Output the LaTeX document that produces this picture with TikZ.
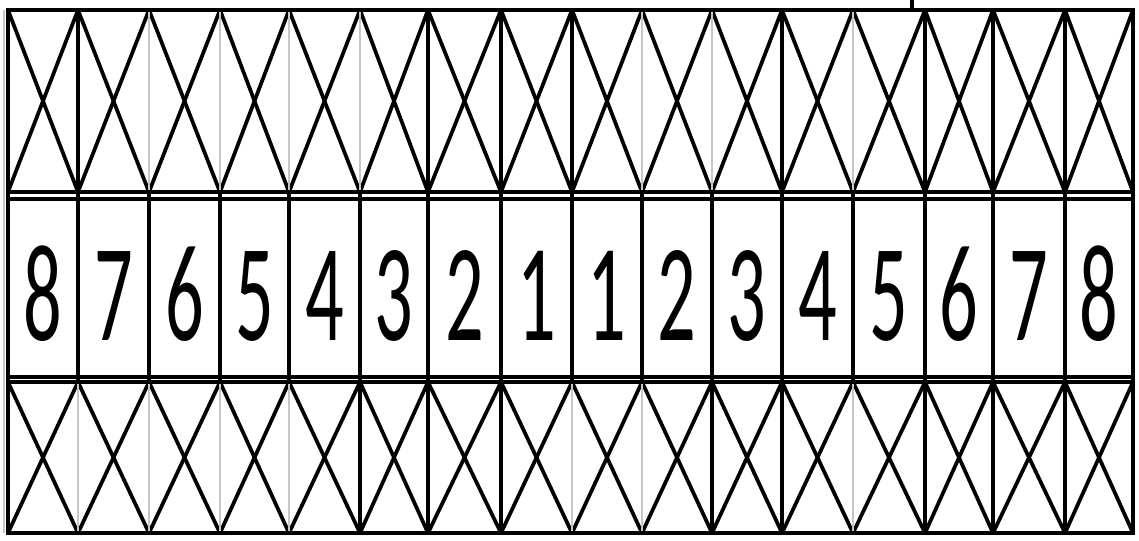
\documentclass[tikz,border=0pt]{standalone}
\usepackage{fontspec}
\newfontfamily\digitfont{Carlito}
\begin{document}
\begin{tikzpicture}[x=0.75pt,y=-0.75pt,
  heavy/.style={line width=3.2pt,black},
  diag/.style={line width=2.8pt,black},
  faint/.style={line width=1.1pt,black!22},
  digit/.style={inner sep=0pt,anchor=base,font=\digitfont\fontsize{104}{104}\selectfont}]
\useasboundingbox (0,0) rectangle (1139,540);
\fill[white] (0,0) rectangle (1139,540);
% faint left margin line
\draw[faint] (4,10) -- (4,533);
% top and bottom row crosses
\foreach \a/\b in {8/78,78/149,149/220,220/289,289/360,360/428,428/501,501/572,572/642,642/712,712/782,782/853,853/925,925/993,993/1065,1065/1133}{
  \draw[diag] (\a,10) -- (\b,192);
  \draw[diag] (\b,10) -- (\a,192);
  \draw[diag] (\a,382) -- (\b,533);
  \draw[diag] (\b,382) -- (\a,533);
}
% top row verticals (1 = heavy, 0 = faint)
\foreach \x/\t in {78/1,149/0,220/0,289/0,360/0,428/1,501/1,572/1,642/0,712/0,782/1,853/0,925/1,993/1,1065/1}{
  \ifnum\t=1 \draw[heavy] (\x,10) -- (\x,199); \else \draw[faint] (\x,10) -- (\x,192); \draw[heavy] (\x,192) -- (\x,199); \fi
}
% bottom row verticals
\foreach \x/\t in {78/0,149/0,220/0,289/0,360/1,428/1,501/1,572/0,642/0,712/1,782/1,853/0,925/1,993/1,1065/1}{
  \ifnum\t=1 \draw[heavy] (\x,377) -- (\x,533); \else \draw[faint] (\x,382) -- (\x,533); \draw[heavy] (\x,377) -- (\x,382); \fi
}
% middle row verticals
\foreach \x in {78,149,220,289,360,428,501,572,642,712,782,853,925,993,1065}{
  \draw[heavy] (\x,199) -- (\x,377);
}
% horizontal lines and frame
\draw[heavy] (8,192) -- (1133,192);
\draw[heavy] (8,199) -- (1133,199);
\draw[heavy] (8,377) -- (1133,377);
\draw[heavy] (8,382) -- (1133,382);
\draw[heavy] (8,10) rectangle (1133,533);
% small stub above the top edge
\draw[heavy] (912,0) -- (912,10);
% digits
\foreach \a/\b/\d [count=\i] in {8/78/8,78/149/7,149/220/6,220/289/5,289/360/4,360/428/3,428/501/2,501/572/1,572/642/1,642/712/2,712/782/3,782/853/4,853/925/5,925/993/6,993/1065/7,1065/1133/8}{
  \node[digit] (n\i) at ({(\a+\b)/2},340) {\scalebox{0.55}[1]{\d}};
}
\end{tikzpicture}
\end{document}
